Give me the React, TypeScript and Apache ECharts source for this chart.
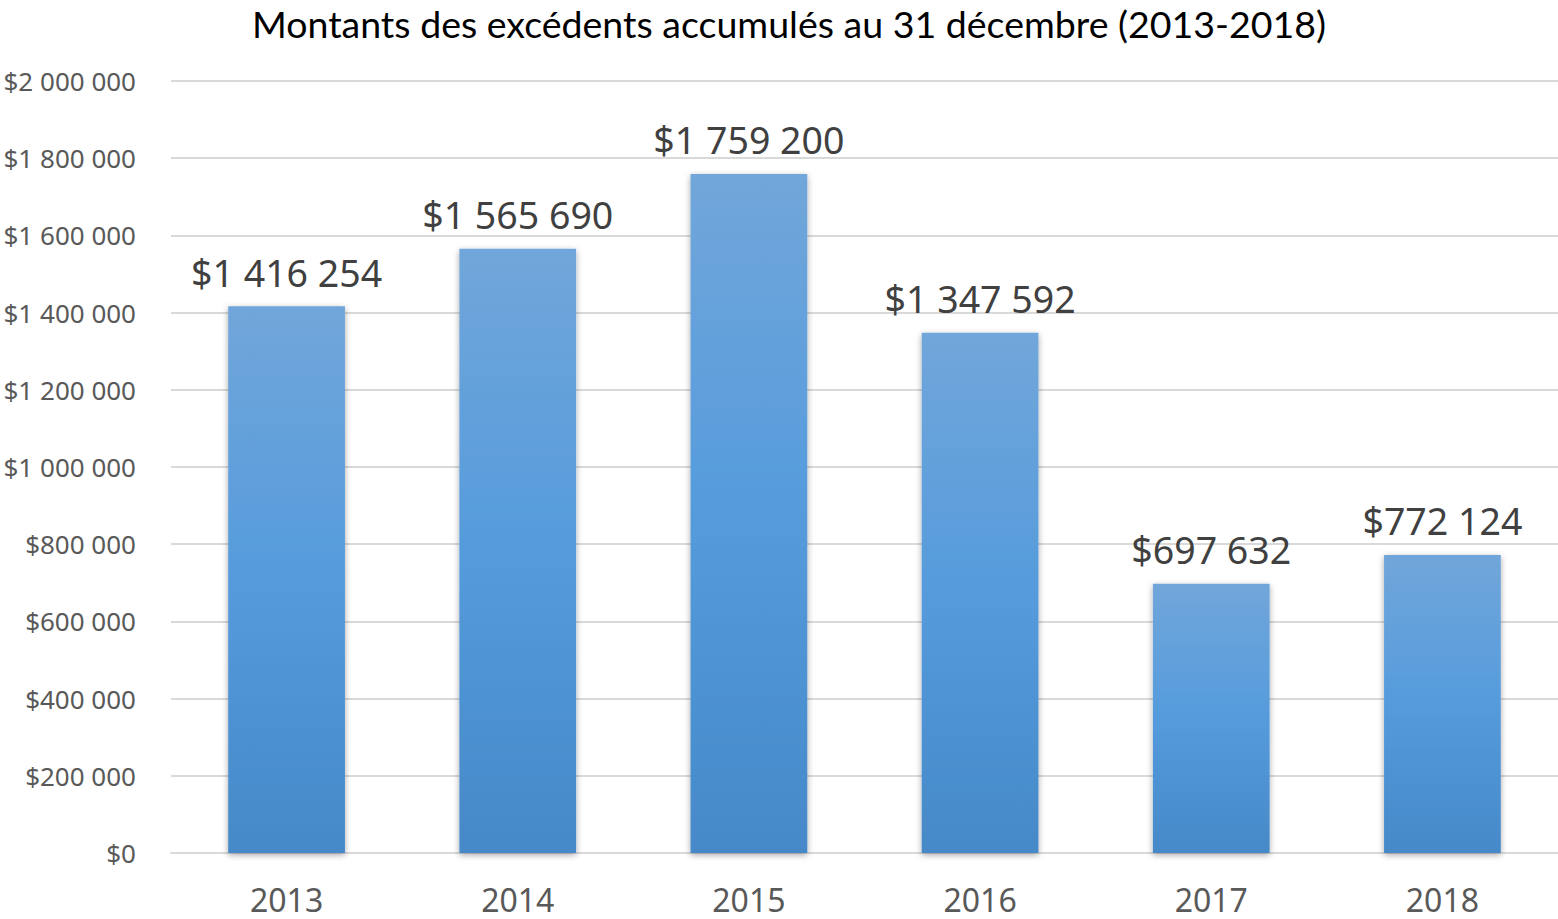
import React, { useEffect, useRef } from "react";
import * as echarts from "echarts";

const categories = ["2013", "2014", "2015", "2016", "2017", "2018"];
const values = [1416254, 1565690, 1759200, 1347592, 697632, 772124];
const yMin = 0;
const yMax = 2000000;
const yInterval = 200000;
const titleText = "Montants des excédents accumulés au 31 décembre (2013-2018)";

const fmt = (v: number) =>
  "$" + String(Math.round(v)).replace(/\B(?=(\d{3})+(?!\d))/g, " ");

export default function App() {
  const ref = useRef<HTMLDivElement>(null);
  useEffect(() => {
    if (!ref.current) return;
    const chart = echarts.init(ref.current, null, { renderer: "svg" });
    chart.setOption({
      animation: false,
      backgroundColor: "#ffffff",
      title: {
        text: titleText,
        left: 789,
        textAlign: "center",
        top: 0,
        padding: 0,
        textStyle: {
          fontFamily: "Lato",
          fontSize: 37.5,
          lineHeight: 47,
          fontWeight: "normal",
          color: "#000000",
        },
      },
      grid: { left: 171, width: 1391, top: 81, bottom: 66, containLabel: false },
      xAxis: {
        type: "category",
        data: categories,
        axisLine: { show: true, lineStyle: { color: "#d9d9d9", width: 2 } },
        axisTick: { show: false },
        axisLabel: {
          fontFamily: "Noto Sans",
          fontSize: 32,
          color: "#595959",
          margin: 30,
        },
      },
      yAxis: {
        type: "value",
        min: yMin,
        max: yMax,
        interval: yInterval,
        axisLine: { show: false },
        axisTick: { show: false },
        splitLine: { lineStyle: { color: "#d9d9d9", width: 2 } },
        axisLabel: {
          fontFamily: "Noto Sans",
          fontSize: 26,
          color: "#595959",
          margin: 35,
          formatter: (v: number) => fmt(v),
        },
      },
      series: [
        {
          type: "bar",
          data: values,
          barWidth: "50.5%",
          itemStyle: {
            color: new echarts.graphic.LinearGradient(0, 0, 0, 1, [
              { offset: 0, color: "#71a6da" },
              { offset: 0.5, color: "#559bdc" },
              { offset: 1, color: "#4689c8" },
            ]),
            shadowColor: "rgba(0,0,0,0.35)",
            shadowBlur: 6,
            shadowOffsetX: 0,
            shadowOffsetY: 2,
          },
          label: {
            show: true,
            position: "top",
            distance: 15,
            fontFamily: "Noto Sans",
            fontSize: 37.5,
            color: "#404040",
            formatter: (p: any) => fmt(p.value),
          },
        },
      ],
    });
    return () => chart.dispose();
  }, []);
  return (
    <div
      ref={ref}
      style={{ position: "fixed", left: 0, top: 0, width: 1558, height: 919 }}
    />
  );
}
